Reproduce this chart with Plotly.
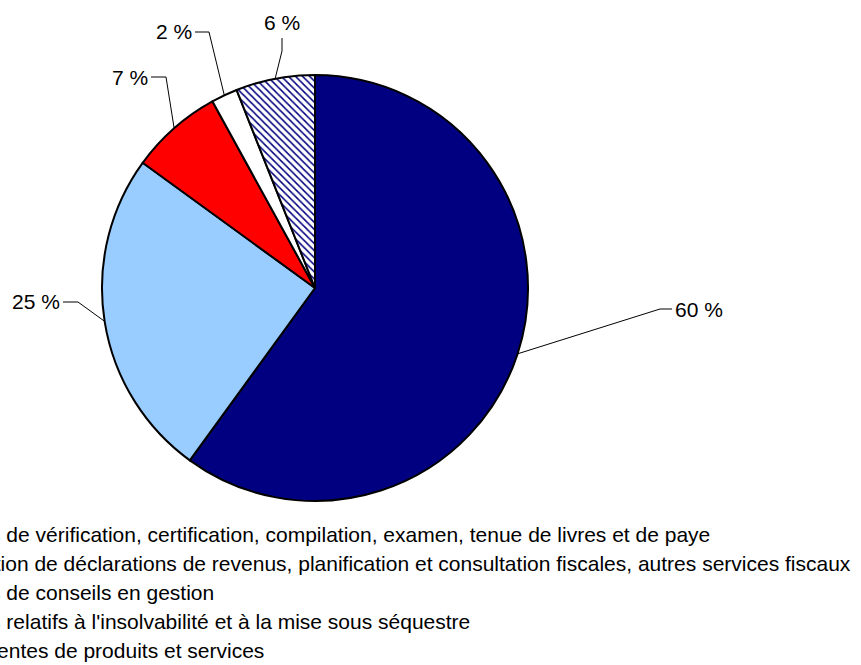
import math
import plotly.graph_objects as go

# data
categories = [
    "Services de vérification, certification, compilation, examen, tenue de livres et de paye",
    "Préparation de déclarations de revenus, planification et consultation fiscales, autres services fiscaux",
    "Services de conseils en gestion",
    "Services relatifs à l'insolvabilité et à la mise sous séquestre",
    "Autres ventes de produits et services",
]
shares = [60, 25, 7, 2, 6]

colors = ["#000080", "#99CCFF", "#FF0000", "#FFFFFF", "#FFFFFF"]
patterns = ["", "", "", "", "\\"]

W, H = 861, 665
cx, cy, r = 315, 288, 213  # pie centre / radius in pixels
FS = 21

# where Excel put each label: (elbow x, elbow y, end x, end y, text anchor)
label_layout = [
    (660, 309, 672, 309, "left"),
    (78, 302, 63, 302, "right"),
    (166, 77, 151, 77, "right"),
    (209, 32, 195, 32, "right"),
    (282, 51, 282, 38, "bottom"),
]
legend_x, legend_y0, legend_dy = -82.5, 534, 29


def px(x, y):
    return x / W, (H - y) / H


fig = go.Figure()
fig.add_trace(go.Pie(
    labels=categories,
    values=shares,
    sort=False,
    direction="clockwise",
    rotation=0,
    textinfo="none",
    hoverinfo="label+percent",
    showlegend=False,
    marker=dict(
        colors=colors,
        line=dict(color="black", width=2),
        pattern=dict(shape=patterns, fgcolor="#000080", bgcolor="#FFFFFF",
                     size=5, solidity=0.3),
    ),
    domain=dict(x=[(cx - r) / W, (cx + r) / W],
                y=[(H - cy - r) / H, (H - cy + r) / H]),
))

shapes, annotations = [], []
total = sum(shares)
acc = 0
for v, (ex, ey, tx, ty, anchor) in zip(shares, label_layout):
    mid = (acc + v / 2) / total * 2 * math.pi
    acc += v
    sx = cx + r * math.sin(mid)
    sy = cy - r * math.cos(mid)
    pts = [px(sx, sy), px(ex, ey), px(tx, ty)]
    path = "M {} {} L {} {} L {} {}".format(*[c for p in pts for c in p])
    shapes.append(dict(type="path", path=path, xref="paper", yref="paper",
                       line=dict(color="black", width=1)))
    ax, ay = px(tx, ty)
    if anchor == "left":
        a = dict(x=ax, y=ay, xanchor="left", yanchor="middle", xshift=1)
    elif anchor == "right":
        a = dict(x=ax, y=ay, xanchor="right", yanchor="middle", xshift=-1)
    else:
        a = dict(x=ax, y=ay, xanchor="center", yanchor="bottom", yshift=2)
    a.update(text=f"{v} %", showarrow=False, xref="paper", yref="paper",
             font=dict(size=FS, color="black"))
    annotations.append(a)

# legend rows (their colour keys fall off the left edge, as in the original)
for i, name in enumerate(categories):
    lx, ly = px(legend_x, legend_y0 + i * legend_dy)
    annotations.append(dict(text=name, x=lx, y=ly, xref="paper", yref="paper",
                            xanchor="left", yanchor="middle", showarrow=False,
                            font=dict(size=FS, color="black")))

fig.update_layout(
    width=W, height=H,
    margin=dict(l=0, r=0, t=0, b=0, autoexpand=False),
    paper_bgcolor="white",
    font=dict(family="Liberation Sans, Arial, sans-serif", color="black"),
    shapes=shapes,
    annotations=annotations,
)

fig.write_html("out.html", config={"displayModeBar": False},
               post_script="document.body.style.margin='0';")
